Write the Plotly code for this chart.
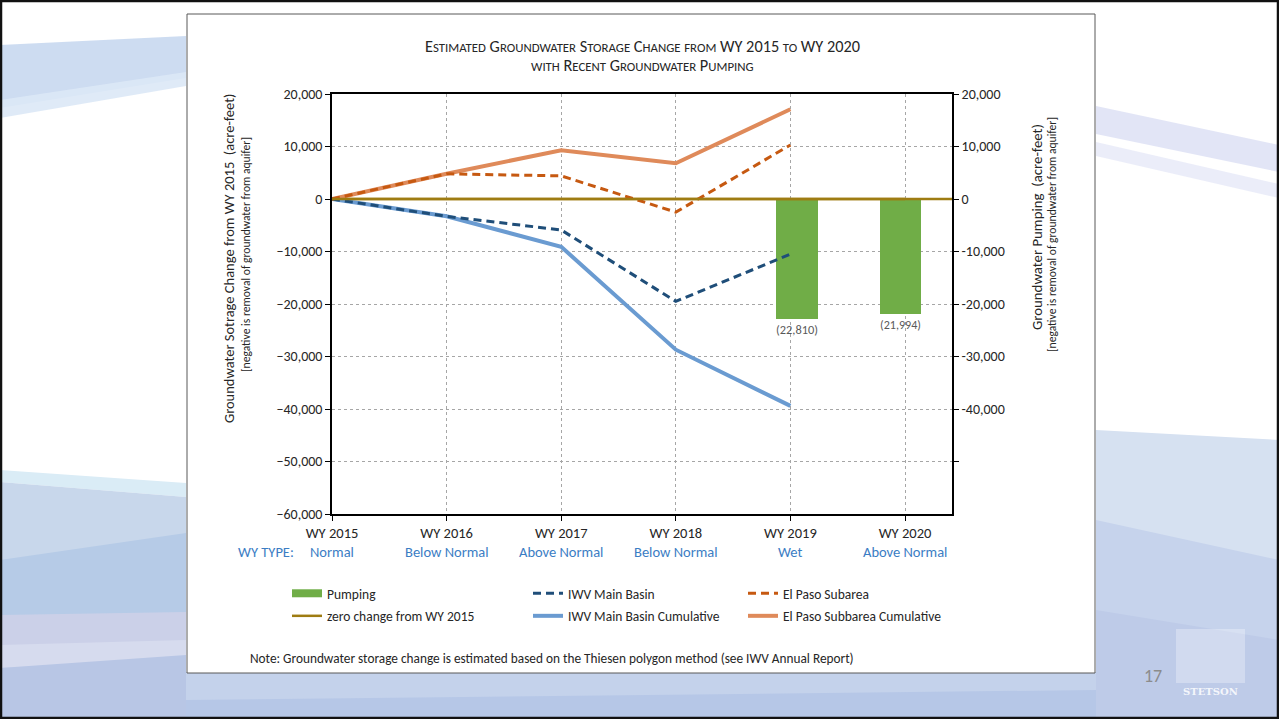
import re
import plotly.graph_objects as go

# ---------------- data ----------------
categories = ["WY 2015", "WY 2016", "WY 2017", "WY 2018", "WY 2019", "WY 2020"]
wy_types = ["Normal", "Below Normal", "Above Normal", "Below Normal", "Wet", "Above Normal"]
pumping = [None, None, None, None, -22810, -21994]
iwv_main = [0, -3300, -5900, -19500, -10500]
iwv_main_cum = [0, -3300, -9100, -28700, -39400]
el_paso = [0, 4800, 4400, -2500, 10300]
el_paso_cum = [0, 4800, 9300, 6800, 17100]
zero_change = [0, 0, 0, 0, 0, 0]
y_ticks = [-60000, -50000, -40000, -30000, -20000, -10000, 0, 10000, 20000]
right_ticks = [-50000, -40000, -30000, -20000, -10000, 0, 10000, 20000]
right_ticktext = ["", "-40,000", "-30,000", "-20,000", "-10,000", "0", "10,000", "20,000"]

# ---------------- styling ----------------
FONT = "Carlito, Calibri, Lato, 'Liberation Sans', sans-serif"
TXT = "#262626"
C_BAR = "#70AD47"
C_IWV = "#1F4E79"
C_IWV_CUM = "#6A9BD1"
C_EP = "#C65911"
C_EP_CUM = "#DF8A5A"
C_ZERO = "#9E7C12"
C_TYPE = "#3B7DC4"
GRID = "#A6A6A6"

W, H = 1279, 719
L, R, T, B = 332, 952, 94, 514


def px(x):
    return (x - L) / (R - L)


def py(y):
    return (B - y) / (B - T)


def small_caps(s, small=12.8):
    out = []
    for tok in re.findall(r"[a-z]+|[^a-z]+", s):
        if tok.islower():
            out.append(f"<span style='font-size:{small}px'>{tok.upper()}</span>")
        else:
            out.append(tok)
    return "".join(out)


idx = list(range(len(categories)))

fig = go.Figure()

# bars on the main (right-axis) subplot
fig.add_trace(go.Bar(
    x=idx, y=pumping, xaxis="x", yaxis="y", width=0.4,
    marker=dict(color=C_BAR, line=dict(width=0)),
    text=[f"({-v:,.0f})" if v is not None else "" for v in pumping],
    textposition="outside", textfont=dict(size=13.3, color="#595959", family=FONT),
    cliponaxis=False, showlegend=False, hoverinfo="skip",
))

# legend-only swatch for pumping
fig.add_trace(go.Scatter(
    x=[None], y=[None], xaxis="x2", yaxis="y2", mode="lines", name="Pumping",
    line=dict(color=C_BAR, width=8), legend="legend", legendrank=1,
    legendgroup="g1",
))
fig.add_trace(go.Scatter(
    x=idx, y=zero_change, xaxis="x2", yaxis="y2", mode="lines",
    name="zero change from WY 2015", line=dict(color=C_ZERO, width=2.5),
    legend="legend", legendrank=2, legendgroup="g2",
))
fig.add_trace(go.Scatter(
    x=idx[:len(iwv_main_cum)], y=iwv_main_cum, xaxis="x2", yaxis="y2", mode="lines",
    name="IWV Main Basin Cumulative", line=dict(color=C_IWV_CUM, width=4),
    legend="legend2", legendrank=2, legendgroup="g3",
))
fig.add_trace(go.Scatter(
    x=idx[:len(el_paso_cum)], y=el_paso_cum, xaxis="x2", yaxis="y2", mode="lines",
    name="El Paso Subbarea Cumulative", line=dict(color=C_EP_CUM, width=4),
    legend="legend3", legendrank=2, legendgroup="g4",
))
fig.add_trace(go.Scatter(
    x=idx[:len(iwv_main)], y=iwv_main, xaxis="x2", yaxis="y2", mode="lines",
    name="IWV Main Basin", line=dict(color=C_IWV, width=3, dash="8px,5px"),
    legend="legend2", legendrank=1, legendgroup="g5",
))
fig.add_trace(go.Scatter(
    x=idx[:len(el_paso)], y=el_paso, xaxis="x2", yaxis="y2", mode="lines",
    name="El Paso Subarea", line=dict(color=C_EP, width=3, dash="8px,5px"),
    legend="legend3", legendrank=1, legendgroup="g6",
))

legend_common = dict(
    orientation="v", traceorder="grouped", tracegroupgap=2,
    font=dict(size=13.5, color=TXT, family=FONT),
    bgcolor="rgba(0,0,0,0)", borderwidth=0,
    xanchor="left", yanchor="top", y=py(578),
)

# ---------------- background decoration ----------------
def poly(points, color, layer="below", line=None):
    path = "M " + " L ".join(f"{px(x)},{py(y)}" for x, y in points) + " Z"
    return dict(type="path", xref="paper", yref="paper", path=path,
                fillcolor=color, line=line or dict(width=0), layer=layer)


shapes = [
    poly([(0, 0), (W, 0), (W, H), (0, H)], "white"),
    # top-left swoosh
    poly([(0, 45), (186, 36), (186, 78), (0, 108)], "rgba(196,214,238,0.85)"),
    poly([(0, 100), (186, 72), (186, 86), (0, 118)], "rgba(220,232,246,0.9)"),
    # right swooshes
    poly([(1096, 106), (1279, 145), (1279, 172), (1096, 134)], "rgba(214,218,242,0.7)"),
    poly([(1096, 142), (1279, 184), (1279, 198), (1096, 156)], "rgba(226,230,246,0.7)"),
    # bottom left
    poly([(0, 470), (186, 483), (186, 497), (0, 482)], "rgb(218,236,246)"),
    poly([(0, 482), (186, 497), (186, 719), (0, 719)], "rgb(200,215,235)"),
    poly([(0, 560), (186, 533), (186, 719), (0, 719)], "rgb(182,203,231)"),
    poly([(0, 615), (186, 612), (186, 645), (0, 645)], "rgb(203,208,232)"),
    poly([(0, 645), (186, 640), (186, 664), (0, 668)], "rgb(214,219,238)"),
    poly([(0, 668), (186, 655), (186, 719), (0, 719)], "rgb(184,198,229)"),
    # bottom right
    poly([(1096, 430), (1279, 440), (1279, 719), (1096, 719)], "rgb(214,225,241)"),
    poly([(1096, 520), (1279, 560), (1279, 719), (1096, 719)], "rgb(198,211,236)"),
    poly([(1096, 610), (1279, 640), (1279, 719), (1096, 719)], "rgb(190,203,232)"),
    # bottom strip
    poly([(186, 672), (1096, 672), (1096, 719), (186, 719)], "rgb(196,210,235)"),
    poly([(186, 700), (1096, 690), (1096, 719), (186, 719)], "rgb(182,199,231)"),
    # chart panel
    poly([(187, 14), (1095, 14), (1095, 673), (187, 673)], "white",
         line=dict(color="#595959", width=1)),
    # logo box
    dict(type="rect", xref="paper", yref="paper", x0=px(1176), x1=px(1245),
         y0=py(683), y1=py(629), fillcolor="rgba(255,255,255,0.3)",
         line=dict(width=0), layer="below"),
    # zero-change line extends across the plot
    dict(type="line", xref="x2 domain", yref="y2", x0=0, x1=1, y0=0, y1=0,
         line=dict(color=C_ZERO, width=2.5), layer="above"),
    # slide frame
    dict(type="rect", xref="paper", yref="paper", x0=px(1), x1=px(W - 1),
         y0=py(1), y1=py(H - 1), line=dict(color="#111111", width=2.5),
         fillcolor="rgba(0,0,0,0)", layer="above"),
]

annotations = [
    dict(xref="paper", yref="paper", x=0.5, y=py(46), xanchor="center", yanchor="middle",
         text=small_caps("Estimated Groundwater Storage Change from WY 2015 to WY 2020"),
         showarrow=False, font=dict(size=16.3, color=TXT, family=FONT), align="center"),
    dict(xref="paper", yref="paper", x=0.5, y=py(65), xanchor="center", yanchor="middle",
         text=small_caps("with Recent Groundwater Pumping"),
         showarrow=False, font=dict(size=16.3, color=TXT, family=FONT), align="center"),
    dict(xref="paper", yref="paper", x=px(229), y=py(259), textangle=-90,
         text="Groundwater Sotrage Change from WY 2015  (acre-feet)", showarrow=False,
         font=dict(size=14.5, color=TXT, family=FONT), xanchor="center", yanchor="middle"),
    dict(xref="paper", yref="paper", x=px(246), y=py(255), textangle=-90,
         text="[negative is removal of groundwater from aquifer]", showarrow=False,
         font=dict(size=11.6, color=TXT, family=FONT), xanchor="center", yanchor="middle"),
    dict(xref="paper", yref="paper", x=px(1037), y=py(227), textangle=-90,
         text="Groundwater Pumping  (acre-feet)", showarrow=False,
         font=dict(size=14.8, color=TXT, family=FONT), xanchor="center", yanchor="middle"),
    dict(xref="paper", yref="paper", x=px(1052), y=py(235), textangle=-90,
         text="[negative is removal of groundwater from aquifer]", showarrow=False,
         font=dict(size=11.6, color=TXT, family=FONT), xanchor="center", yanchor="middle"),
    dict(xref="paper", yref="paper", x=px(266), y=py(552), text="WY TYPE:",
         showarrow=False, font=dict(size=14.5, color=C_TYPE, family=FONT),
         xanchor="center", yanchor="middle"),
    dict(xref="paper", yref="paper", x=px(248), y=py(658), xanchor="left", yanchor="middle",
         text="Note: Groundwater storage change is estimated based on the Thiesen polygon method (see IWV Annual Report)",
         showarrow=False, font=dict(size=13.3, color=TXT, family=FONT)),
    dict(xref="paper", yref="paper", x=px(1153), y=py(676), text="17", showarrow=False,
         font=dict(size=18, color="#8C8C8C", family=FONT), xanchor="center", yanchor="middle"),
    dict(xref="paper", yref="paper", x=px(1210), y=py(691), text="<b>STETSON</b>",
         showarrow=False, font=dict(size=10, color="rgba(255,255,255,0.85)",
                                    family="'DejaVu Serif', serif"),
         xanchor="center", yanchor="middle"),
]
for i, t in enumerate(wy_types):
    annotations.append(dict(xref="x2", yref="paper", x=idx[i], y=py(552), text=t,
                            showarrow=False, xanchor="center", yanchor="middle",
                            font=dict(size=14.5, color=C_TYPE, family=FONT)))

fig.update_layout(
    width=W, height=H,
    margin=dict(l=L, r=W - R, t=T, b=H - B, pad=0),
    paper_bgcolor="white", plot_bgcolor="rgba(0,0,0,0)",
    font=dict(family=FONT, color=TXT, size=12),
    showlegend=True,
    legend=dict(**legend_common, x=px(287)),
    legend2=dict(**legend_common, x=px(528)),
    legend3=dict(**legend_common, x=px(743)),
    xaxis=dict(range=[-0.5, len(categories) - 0.5], visible=False, fixedrange=True),
    yaxis=dict(range=[-60000, 20000], side="right", tickvals=right_ticks,
               ticktext=right_ticktext, ticks="outside", ticklen=5, tickcolor="black",
               showline=True, linecolor="black", linewidth=1.5, showgrid=False,
               zeroline=False, tickfont=dict(size=14, color=TXT, family=FONT)),
    xaxis2=dict(overlaying="x", anchor="y2", side="bottom", range=[0, 5.41],
                tickvals=idx, ticktext=categories, ticks="outside", ticklen=5,
                tickcolor="black", showline=True, linecolor="black", linewidth=1.8,
                mirror=True, showgrid=True, gridcolor=GRID, griddash="dot", gridwidth=1,
                zeroline=False, ticklabelstandoff=0,
                tickfont=dict(size=14.5, color=TXT, family=FONT)),
    yaxis2=dict(overlaying="y", anchor="x2", side="left", range=[-60000, 20000],
                tickvals=y_ticks, tickformat=",", ticks="outside", ticklen=5,
                tickcolor="black", showline=True, linecolor="black", linewidth=1.5,
                showgrid=True, gridcolor=GRID, griddash="dot", gridwidth=1,
                zeroline=False, tickfont=dict(size=14, color=TXT, family=FONT)),
    shapes=shapes,
    annotations=annotations,
    bargap=0,
)

fig.write_html("out.html")
